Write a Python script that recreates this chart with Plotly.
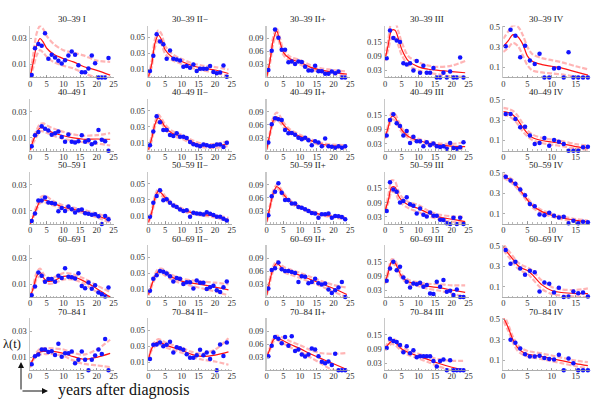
import plotly.graph_objects as go

# ---------------- data ----------------
AGE_GROUPS = ["30–39", "40–49", "50–59", "60–69", "70–84"]
STAGES = ["I", "II−", "II+", "III", "IV"]

YEARS = [0.5, 1.5, 2.5, 3.5, 4.5, 5.5, 6.5, 7.5, 8.5, 9.5, 10.5, 11.5,
         12.5, 13.5, 14.5, 15.5, 16.5, 17.5, 18.5, 19.5, 20.5, 21.5, 22.5, 23.5]
YEARS_IV = [0.5, 1.5, 2.5, 3.5, 4.5, 5.5, 6.5, 7.5, 8.5, 9.5, 10.5, 11.5,
            12.5, 13.5, 14.5, 15.5, 16.5, 17.5]
NODE_X = [0, 1, 2, 3, 4, 5, 7, 10, 13, 16, 20, 24]
NODE_X_IV = [0, 1, 2, 3, 4, 5, 6, 8, 10, 12, 15, 17.5]

Y_RANGE = [0.04, 0.065, 0.12, 0.22, 0.51]
Y_TICKS = [[0.01, 0.03], [0.01, 0.03, 0.05], [0.03, 0.06, 0.09],
           [0.03, 0.09, 0.15], [0.1, 0.3, 0.5]]
Y_TICK_TEXT = [["0.01", "0.03"], ["0.01", "0.03", "0.05"], ["0.03", "0.06", "0.09"],
               ["0.03", "0.09", "0.15"], ["0.1", "0.3", "0.5"]]
X_TICKS = [0, 5, 10, 15, 20, 25]
X_TICKS_IV = [0, 5, 10, 15]

# ---- 30–39 ----
PTS_30_I = [0.002, 0.0225, 0.0258, 0.0245, 0.034, 0.0145, 0.0175, 0.0153, 0.0128, 0.0108, 0.0133, 0.017,
            0.02, 0.0175, 0.0095, 0.004, 0.004, 0.007, 0.017, 0.011, 0, 0, 0, 0.015]
MID_30_I = [0.0, 0.012, 0.0245, 0.030, 0.027, 0.0225, 0.018, 0.0145, 0.012, 0.0085, 0.0055, 0.0018]
HI_30_I = [0.0, 0.018, 0.034, 0.0395, 0.037, 0.032, 0.026, 0.021, 0.019, 0.017, 0.013, 0.012]
LO_30_I = [0.0, 0.008, 0.017, 0.021, 0.019, 0.016, 0.012, 0.009, 0.007, 0.0035, 0.0, 0.0]

PTS_30_IIm = [0.0082, 0.0273, 0.054, 0.0449, 0.0416, 0.0233, 0.0339, 0.0233, 0.0224, 0.0212, 0.0135, 0.0143,
              0.0122, 0.0163, 0.0082, 0.011, 0.011, 0.011, 0.0143, 0.0069, 0.0053, 0.0061, 0.0151, 0.001]
MID_30_IIm = [0.001, 0.016, 0.043, 0.053, 0.047, 0.035, 0.026, 0.02, 0.015, 0.012, 0.0094, 0.005]
HI_30_IIm = [0.002, 0.02, 0.048, 0.059, 0.054, 0.04, 0.03, 0.023, 0.018, 0.015, 0.013, 0.01]
LO_30_IIm = [0.0, 0.013, 0.038, 0.047, 0.041, 0.03, 0.022, 0.017, 0.012, 0.009, 0.006, 0.002]

PTS_30_IIp = [0.0175, 0.0615, 0.111, 0.092, 0.064, 0.064, 0.035, 0.037, 0.031, 0.037, 0.036, 0.025,
              0.016, 0.016, 0.0273, 0.0144, 0.0144, 0.0084, 0.0084, 0.0137, 0.0099, 0.0137, 0, 0]
MID_30_IIp = [0.002, 0.039, 0.088, 0.107, 0.081, 0.058, 0.043, 0.035, 0.024, 0.0175, 0.012, 0.008]
HI_30_IIp = [0.004, 0.045, 0.095, 0.113, 0.09, 0.065, 0.048, 0.04, 0.029, 0.022, 0.017, 0.014]
LO_30_IIp = [0.0, 0.033, 0.08, 0.098, 0.074, 0.052, 0.038, 0.03, 0.019, 0.013, 0.008, 0.004]

PTS_30_III = [0.081, 0.199, 0.167, 0.157, 0.15, 0.06, 0.055, 0.06, 0.03, 0.07, 0.02, 0.05,
              0.02, 0.02, 0.04, 0, 0, 0.02, 0, 0.025, 0, 0, 0.085, 0]
MID_30_III = [0.075, 0.14, 0.2, 0.2, 0.165, 0.12, 0.07, 0.045, 0.035, 0.03, 0.025, 0.02]
HI_30_III = [0.08, 0.16, 0.235, 0.235, 0.195, 0.15, 0.09, 0.065, 0.05, 0.045, 0.05, 0.07]
LO_30_III = [0.07, 0.12, 0.17, 0.17, 0.135, 0.095, 0.052, 0.03, 0.02, 0.013, 0.005, 0.003]

PTS_30_IV = [0.306, 0.468, 0.41, 0.198, 0.312, 0.166, 0.133, 0.234, 0, 0, 0.088, 0.094,
             0, 0.247, 0, 0, 0, 0]
MID_30_IV = [0.306, 0.36, 0.42, 0.40, 0.33, 0.21, 0.16, 0.127, 0.11, 0.094, 0.055, 0.023]
HI_30_IV = [0.38, 0.45, 0.51, 0.5, 0.42, 0.3, 0.23, 0.19, 0.17, 0.15, 0.11, 0.08]
LO_30_IV = [0.25, 0.29, 0.34, 0.31, 0.22, 0.12, 0.07, 0.05, 0.04, 0.03, 0.01, 0.0]

# ---- 40–49 ----
PTS_40_I = [0.0035, 0.0118, 0.0143, 0.0188, 0.0168, 0.0155, 0.0123, 0.0135, 0.0148, 0.0105, 0.0068, 0.0125,
            0.0068, 0.0063, 0.0073, 0.0118, 0.0068, 0.008, 0.005, 0.0063, 0.016, 0.0085, 0.0073, 0]
MID_40_I = [0.0005, 0.008, 0.0135, 0.0175, 0.0173, 0.016, 0.0138, 0.0115, 0.0098, 0.0088, 0.009, 0.0088]
HI_40_I = [0.001, 0.01, 0.016, 0.0205, 0.021, 0.0195, 0.017, 0.0145, 0.0125, 0.0115, 0.012, 0.0135]
LO_40_I = [0.0, 0.006, 0.011, 0.015, 0.0148, 0.0138, 0.0115, 0.0092, 0.0075, 0.0065, 0.0055, 0.004]

PTS_40_IIm = [0.0068, 0.024, 0.043, 0.0355, 0.026, 0.026, 0.0196, 0.0183, 0.0217, 0.0175, 0.0175, 0.016,
              0.011, 0.008, 0.0068, 0.0055, 0.0077, 0.0068, 0.0055, 0.006, 0.0077, 0.0077, 0.0047, 0.0098]
MID_40_IIm = [0.001, 0.015, 0.033, 0.041, 0.037, 0.03, 0.022, 0.0175, 0.011, 0.0065, 0.006, 0.009]
HI_40_IIm = [0.002, 0.018, 0.036, 0.045, 0.04, 0.033, 0.025, 0.02, 0.0135, 0.009, 0.0085, 0.012]
LO_40_IIm = [0.0, 0.012, 0.03, 0.037, 0.034, 0.027, 0.019, 0.015, 0.0085, 0.0045, 0.0035, 0.006]

PTS_40_IIp = [0.0187, 0.061, 0.075, 0.0725, 0.071, 0.0475, 0.04, 0.041, 0.037, 0.030, 0.0265, 0.0296,
              0.024, 0.0125, 0.022, 0.0187, 0.0101, 0.028, 0.0101, 0.0093, 0.007, 0.0101, 0.007, 0.0101]
MID_40_IIp = [0.003, 0.04, 0.07, 0.078, 0.072, 0.06, 0.045, 0.033, 0.024, 0.016, 0.011, 0.009]
HI_40_IIp = [0.004, 0.044, 0.078, 0.088, 0.08, 0.066, 0.049, 0.037, 0.027, 0.019, 0.014, 0.013]
LO_40_IIp = [0.002, 0.036, 0.064, 0.071, 0.065, 0.054, 0.041, 0.03, 0.021, 0.013, 0.008, 0.005]

PTS_40_III = [0.064, 0.13, 0.154, 0.116, 0.104, 0.064, 0.083, 0.033, 0.059, 0.04, 0.04, 0.0186,
              0.036, 0.023, 0.03, 0.0186, 0.0157, 0.0186, 0.0086, 0.033, 0.0114, 0.0086, 0.0143, 0.036]
MID_40_III = [0.055, 0.1, 0.145, 0.14, 0.115, 0.088, 0.06, 0.043, 0.032, 0.025, 0.019, 0.017]
HI_40_III = [0.06, 0.11, 0.16, 0.155, 0.127, 0.097, 0.067, 0.05, 0.038, 0.031, 0.029, 0.035]
LO_40_III = [0.05, 0.092, 0.133, 0.128, 0.103, 0.079, 0.053, 0.036, 0.026, 0.019, 0.012, 0.008]

PTS_40_IV = [0.361, 0.361, 0.311, 0.23, 0.236, 0.148, 0.066, 0.075, 0.125, 0.049, 0.105, 0.089,
             0.066, 0, 0, 0, 0.033, 0.039]
MID_40_IV = [0.384, 0.375, 0.35, 0.3, 0.23, 0.17, 0.13, 0.1, 0.085, 0.07, 0.04, 0.025]
HI_40_IV = [0.42, 0.41, 0.39, 0.34, 0.27, 0.2, 0.16, 0.125, 0.11, 0.095, 0.065, 0.05]
LO_40_IV = [0.35, 0.34, 0.31, 0.26, 0.19, 0.14, 0.105, 0.075, 0.06, 0.045, 0.02, 0.005]

# ---- 50–59 ----
PTS_50_I = [0.0022, 0.008, 0.018, 0.018, 0.0203, 0.0165, 0.016, 0.0155, 0.0097, 0.0122, 0.01, 0.0134,
            0.0112, 0.0087, 0.0105, 0.011, 0.0082, 0.0079, 0.0071, 0.0074, 0.0058, 0, 0.006, 0.0035]
MID_50_I = [0.0, 0.006, 0.012, 0.0175, 0.0185, 0.018, 0.0158, 0.0128, 0.0112, 0.0095, 0.0065, 0.0025]
HI_50_I = [0.0, 0.007, 0.014, 0.02, 0.0215, 0.021, 0.0175, 0.0142, 0.0125, 0.0108, 0.008, 0.0045]
LO_50_I = [0.0, 0.005, 0.011, 0.016, 0.0168, 0.0162, 0.0142, 0.0114, 0.01, 0.0083, 0.005, 0.001]

PTS_50_IIm = [0.0088, 0.0265, 0.035, 0.042, 0.0297, 0.0307, 0.0265, 0.023, 0.021, 0.018, 0.016, 0.017,
              0.0088, 0.0139, 0.013, 0.0126, 0.0118, 0.0147, 0.0126, 0.011, 0.0088, 0.0088, 0.0063, 0.0042]
MID_50_IIm = [0.002, 0.014, 0.032, 0.041, 0.038, 0.033, 0.025, 0.018, 0.014, 0.012, 0.0095, 0.005]
HI_50_IIm = [0.003, 0.016, 0.035, 0.044, 0.041, 0.035, 0.027, 0.0195, 0.0155, 0.0135, 0.011, 0.0075]
LO_50_IIm = [0.001, 0.012, 0.029, 0.038, 0.035, 0.031, 0.023, 0.0165, 0.0125, 0.0105, 0.008, 0.003]

PTS_50_IIp = [0.0199, 0.064, 0.074, 0.094, 0.072, 0.055, 0.055, 0.047, 0.047, 0.039, 0.037, 0.034,
              0.030, 0.0253, 0.0238, 0.0144, 0.0222, 0.0222, 0.0238, 0.0144, 0.0183, 0.0175, 0.016, 0.0105]
MID_50_IIp = [0.005, 0.04, 0.072, 0.086, 0.08, 0.068, 0.052, 0.038, 0.029, 0.022, 0.017, 0.012]
HI_50_IIp = [0.006, 0.044, 0.077, 0.09, 0.084, 0.072, 0.055, 0.041, 0.031, 0.024, 0.019, 0.015]
LO_50_IIp = [0.004, 0.036, 0.067, 0.081, 0.076, 0.064, 0.049, 0.035, 0.027, 0.02, 0.015, 0.009]

PTS_50_III = [0.055, 0.176, 0.146, 0.136, 0.091, 0.097, 0.113, 0.083, 0.077, 0.044, 0.065, 0.039,
              0.031, 0.048, 0.035, 0.035, 0.018, 0.016, 0.003, 0, 0.026, 0, 0.026, 0]
MID_50_III = [0.055, 0.1, 0.155, 0.155, 0.12, 0.1, 0.08, 0.065, 0.045, 0.03, 0.02, 0.01]
HI_50_III = [0.06, 0.12, 0.185, 0.18, 0.14, 0.115, 0.093, 0.08, 0.055, 0.04, 0.032, 0.03]
LO_50_III = [0.05, 0.09, 0.135, 0.133, 0.103, 0.085, 0.067, 0.05, 0.033, 0.02, 0.01, 0.003]

PTS_50_IV = [0.463, 0.425, 0.394, 0.337, 0.28, 0.195, 0.173, 0.091, 0.085, 0.11, 0.079, 0.063,
             0.069, 0.006, 0.031, 0.006, 0.022, 0.016]
MID_50_IV = [0.47, 0.445, 0.41, 0.36, 0.3, 0.235, 0.18, 0.12, 0.085, 0.06, 0.035, 0.02]
HI_50_IV = [0.49, 0.465, 0.43, 0.38, 0.32, 0.255, 0.2, 0.135, 0.1, 0.075, 0.048, 0.033]
LO_50_IV = [0.45, 0.425, 0.39, 0.34, 0.28, 0.215, 0.16, 0.105, 0.07, 0.047, 0.022, 0.008]

# ---- 60–69 ----
PTS_60_I = [0.0014, 0.0082, 0.019, 0.0165, 0.0118, 0.0139, 0.0139, 0.0118, 0.0165, 0.0146, 0.0221, 0.0157,
            0.0152, 0.0143, 0.0184, 0.0086, 0.0068, 0.0112, 0.0065, 0.0091, 0.0035, 0.0022, 0.0004, 0.0074]
MID_60_I = [0.0, 0.007, 0.016, 0.019, 0.015, 0.0125, 0.0125, 0.016, 0.0155, 0.0125, 0.0065, 0.0]
HI_60_I = [0.0, 0.009, 0.019, 0.022, 0.018, 0.015, 0.015, 0.0185, 0.0175, 0.0145, 0.009, 0.004]
LO_60_I = [0.0, 0.006, 0.014, 0.016, 0.0125, 0.0105, 0.0105, 0.0135, 0.0135, 0.0105, 0.004, 0.0]

PTS_60_IIm = [0.0078, 0.023, 0.0274, 0.0326, 0.0317, 0.0296, 0.026, 0.0196, 0.024, 0.023, 0.0165, 0.0187,
              0.0187, 0.0109, 0.0209, 0.0178, 0.0178, 0.01, 0.0122, 0.0143, 0.0087, 0.0065, 0.0122, 0.0196]
MID_60_IIm = [0.003, 0.015, 0.026, 0.032, 0.0325, 0.03, 0.025, 0.02, 0.0175, 0.0155, 0.0125, 0.009]
HI_60_IIm = [0.004, 0.017, 0.029, 0.035, 0.0355, 0.033, 0.028, 0.023, 0.021, 0.0195, 0.018, 0.016]
LO_60_IIm = [0.002, 0.013, 0.023, 0.029, 0.0295, 0.027, 0.022, 0.017, 0.014, 0.011, 0.007, 0.002]

PTS_60_IIp = [0.0199, 0.0627, 0.0666, 0.08, 0.064, 0.06, 0.06, 0.058, 0.0556, 0.0346, 0.0479, 0.0471,
              0.0322, 0.0346, 0.0425, 0.0322, 0.0292, 0.0315, 0.0175, 0.0097, 0.016, 0.0222, 0.0346, 0]
MID_60_IIp = [0.005, 0.04, 0.067, 0.078, 0.072, 0.064, 0.058, 0.05, 0.041, 0.032, 0.02, 0.006]
HI_60_IIp = [0.006, 0.045, 0.072, 0.083, 0.078, 0.07, 0.064, 0.056, 0.047, 0.038, 0.028, 0.022]
LO_60_IIp = [0.004, 0.035, 0.062, 0.073, 0.066, 0.058, 0.052, 0.044, 0.035, 0.026, 0.012, 0.0]

PTS_60_III = [0.069, 0.121, 0.15, 0.114, 0.128, 0.083, 0.065, 0.041, 0.058, 0.054, 0.061, 0.044,
              0.051, 0.0155, 0.0127, 0.065, 0.044, 0.072, 0.0226, 0.0268, 0.0085, 0.0325, 0, 0]
MID_60_III = [0.06, 0.105, 0.15, 0.145, 0.115, 0.088, 0.065, 0.055, 0.045, 0.04, 0.03, 0.02]
HI_60_III = [0.065, 0.115, 0.16, 0.155, 0.125, 0.097, 0.073, 0.063, 0.056, 0.055, 0.05, 0.05]
LO_60_III = [0.055, 0.095, 0.14, 0.135, 0.105, 0.079, 0.056, 0.046, 0.035, 0.028, 0.015, 0.0]

PTS_60_IV = [0.463, 0.327, 0.346, 0.28, 0.22, 0.258, 0.243, 0.054, 0.142, 0.132, 0.044, 0.091,
             0, 0.006, 0.054, 0.038, 0.044, 0.006]
MID_60_IV = [0.49, 0.43, 0.37, 0.31, 0.28, 0.26, 0.22, 0.12, 0.065, 0.045, 0.035, 0.035]
HI_60_IV = [0.52, 0.46, 0.4, 0.34, 0.31, 0.29, 0.26, 0.16, 0.1, 0.075, 0.07, 0.085]
LO_60_IV = [0.46, 0.4, 0.34, 0.28, 0.25, 0.23, 0.18, 0.08, 0.03, 0.015, 0.005, 0.0]

# ---- 70–84 ----
PTS_70_I = [0.0047, 0.0108, 0.0121, 0.016, 0.016, 0.014, 0.0147, 0.0118, 0.0205, 0.0105, 0.0132, 0.0132,
            0.0145, 0.0055, 0.0082, 0.0145, 0.0082, 0, 0.0082, 0.0113, 0.016, 0.0126, 0.024, 0]
MID_70_I = [0.003, 0.009, 0.0125, 0.014, 0.0145, 0.0145, 0.0145, 0.013, 0.0105, 0.0085, 0.01, 0.013]
HI_70_I = [0.004, 0.01, 0.014, 0.0165, 0.0168, 0.017, 0.0168, 0.016, 0.0135, 0.012, 0.016, 0.0235]
LO_70_I = [0.002, 0.008, 0.011, 0.012, 0.0125, 0.0125, 0.0125, 0.011, 0.0075, 0.005, 0.0038, 0.0025]

PTS_70_IIm = [0.0142, 0.032, 0.0324, 0.0347, 0.0302, 0.032, 0.0356, 0.0222, 0.0289, 0.0276, 0.0258, 0.02,
              0.0156, 0.0156, 0.0187, 0.0258, 0.0187, 0.0222, 0.0142, 0.0222, 0.0, 0.0324, 0.0178, 0.0347]
MID_70_IIm = [0.013, 0.027, 0.033, 0.0355, 0.034, 0.032, 0.029, 0.025, 0.02, 0.0175, 0.019, 0.023]
HI_70_IIm = [0.014, 0.029, 0.036, 0.039, 0.0375, 0.035, 0.032, 0.028, 0.023, 0.021, 0.026, 0.04]
LO_70_IIm = [0.012, 0.025, 0.030, 0.032, 0.031, 0.029, 0.026, 0.022, 0.017, 0.0135, 0.011, 0.007]

PTS_70_IIp = [0.0324, 0.0568, 0.077, 0.073, 0.0624, 0.077, 0.0568, 0.0786, 0.0446, 0.0478, 0.0365, 0.0316,
              0.0365, 0.0503, 0.0478, 0.0324, 0.0195, 0.0162, 0.0203, 0.0122, 0.0381, 0, 0, 0]
MID_70_IIp = [0.03, 0.05, 0.07, 0.075, 0.072, 0.068, 0.06, 0.05, 0.038, 0.028, 0.015, 0.002]
HI_70_IIp = [0.032, 0.053, 0.074, 0.08, 0.078, 0.075, 0.067, 0.058, 0.047, 0.04, 0.038, 0.04]
LO_70_IIp = [0.028, 0.047, 0.066, 0.07, 0.066, 0.062, 0.053, 0.043, 0.03, 0.017, 0.0, 0.0]

PTS_70_III = [0.094, 0.133, 0.124, 0.12, 0.107, 0.076, 0.102, 0.072, 0.085, 0.055, 0.059, 0.059,
              0.059, 0.059, 0.039, 0.016, 0.039, 0.046, 0, 0.042, 0, 0, 0, 0]
MID_70_III = [0.09, 0.11, 0.122, 0.118, 0.105, 0.09, 0.075, 0.06, 0.045, 0.03, 0.013, 0.0]
HI_70_III = [0.095, 0.12, 0.135, 0.13, 0.115, 0.1, 0.085, 0.07, 0.058, 0.047, 0.04, 0.04]
LO_70_III = [0.085, 0.1, 0.112, 0.107, 0.094, 0.08, 0.065, 0.05, 0.034, 0.017, 0.0, 0.0]

PTS_70_IV = [None, 0.3, 0.27, 0.214, 0.158, 0.136, 0.136, 0.143, 0.121, 0.112, 0.105, 0.152,
             0, 0.115, 0.068, 0, 0, 0]
MID_70_IV = [0.52, 0.42, 0.3, 0.22, 0.18, 0.16, 0.15, 0.135, 0.115, 0.095, 0.065, 0.045]
HI_70_IV = [0.56, 0.45, 0.33, 0.25, 0.21, 0.19, 0.18, 0.165, 0.145, 0.125, 0.095, 0.08]
LO_70_IV = [0.48, 0.39, 0.27, 0.19, 0.155, 0.135, 0.125, 0.11, 0.09, 0.07, 0.04, 0.02]

PANELS = [
    [(PTS_30_I, MID_30_I, LO_30_I, HI_30_I), (PTS_30_IIm, MID_30_IIm, LO_30_IIm, HI_30_IIm),
     (PTS_30_IIp, MID_30_IIp, LO_30_IIp, HI_30_IIp), (PTS_30_III, MID_30_III, LO_30_III, HI_30_III),
     (PTS_30_IV, MID_30_IV, LO_30_IV, HI_30_IV)],
    [(PTS_40_I, MID_40_I, LO_40_I, HI_40_I), (PTS_40_IIm, MID_40_IIm, LO_40_IIm, HI_40_IIm),
     (PTS_40_IIp, MID_40_IIp, LO_40_IIp, HI_40_IIp), (PTS_40_III, MID_40_III, LO_40_III, HI_40_III),
     (PTS_40_IV, MID_40_IV, LO_40_IV, HI_40_IV)],
    [(PTS_50_I, MID_50_I, LO_50_I, HI_50_I), (PTS_50_IIm, MID_50_IIm, LO_50_IIm, HI_50_IIm),
     (PTS_50_IIp, MID_50_IIp, LO_50_IIp, HI_50_IIp), (PTS_50_III, MID_50_III, LO_50_III, HI_50_III),
     (PTS_50_IV, MID_50_IV, LO_50_IV, HI_50_IV)],
    [(PTS_60_I, MID_60_I, LO_60_I, HI_60_I), (PTS_60_IIm, MID_60_IIm, LO_60_IIm, HI_60_IIm),
     (PTS_60_IIp, MID_60_IIp, LO_60_IIp, HI_60_IIp), (PTS_60_III, MID_60_III, LO_60_III, HI_60_III),
     (PTS_60_IV, MID_60_IV, LO_60_IV, HI_60_IV)],
    [(PTS_70_I, MID_70_I, LO_70_I, HI_70_I), (PTS_70_IIm, MID_70_IIm, LO_70_IIm, HI_70_IIm),
     (PTS_70_IIp, MID_70_IIp, LO_70_IIp, HI_70_IIp), (PTS_70_III, MID_70_III, LO_70_III, HI_70_III),
     (PTS_70_IV, MID_70_IV, LO_70_IV, HI_70_IV)],
]

# ---------------- layout geometry (pixels) ----------------
W, H = 600, 414
COL_LEFT = [30, 148.3, 266.7, 385, 503.3]
COL_WIDTH = [83.5, 83.5, 83.5, 83.5, 87]
ROW_BOTTOM = [77.5, 150.7, 223.9, 297.1, 370.3]
PANEL_H = 52

FONT = "Liberation Serif"
RED = "rgb(255,20,20)"
PINK = "rgba(255,120,120,0.55)"
BLUE = "rgb(20,20,255)"

fig = go.Figure()
layout = dict(width=W, height=H, margin=dict(l=0, r=0, t=0, b=0, autoexpand=False),
              paper_bgcolor="white", plot_bgcolor="white", showlegend=False,
              annotations=[], shapes=[])

for r in range(5):
    for c in range(5):
        k = r * 5 + c + 1
        xs_name = "x" if k == 1 else f"x{k}"
        ys_name = "y" if k == 1 else f"y{k}"
        xa = "xaxis" if k == 1 else f"xaxis{k}"
        ya = "yaxis" if k == 1 else f"yaxis{k}"
        pts, mid, lo, hi = PANELS[r][c]
        iv = (c == 4)
        px_pts = YEARS_IV if iv else YEARS
        nx = NODE_X_IV if iv else NODE_X

        for band in (hi, lo):
            fig.add_trace(go.Scatter(x=nx, y=band, mode="lines", xaxis=xs_name, yaxis=ys_name,
                                     line=dict(color=PINK, width=2.2, dash="5px,2px", shape="spline",
                                               smoothing=0.9),
                                     hoverinfo="skip"))
        fig.add_trace(go.Scatter(x=nx, y=mid, mode="lines", xaxis=xs_name, yaxis=ys_name,
                                 line=dict(color=RED, width=1.2, shape="spline", smoothing=0.9),
                                 hoverinfo="skip"))
        fig.add_trace(go.Scatter(x=px_pts, y=pts, mode="markers", xaxis=xs_name, yaxis=ys_name,
                                 marker=dict(color=BLUE, size=4.5, line=dict(width=0)),
                                 cliponaxis=False, hoverinfo="skip"))

        x0 = COL_LEFT[c]
        x1 = x0 + COL_WIDTH[c]
        yb = ROW_BOTTOM[r]
        yt = yb - PANEL_H
        layout[xa] = dict(domain=[x0 / W, x1 / W], anchor=ys_name, automargin=False,
                          range=[0, 18] if iv else [0, 25],
                          tickvals=X_TICKS_IV if iv else X_TICKS,
                          showgrid=False, zeroline=False, showline=True,
                          linecolor="#999", linewidth=0.8,
                          ticks="inside", ticklen=2.5, tickcolor="#888", tickwidth=0.8,
                          minor=dict(ticks="inside", ticklen=1.5, dtick=1, tickcolor="#aaa"),
                          ticklabelstandoff=-2,
                          tickfont=dict(family=FONT, size=8.5, color="#333"), fixedrange=True)
        layout[ya] = dict(domain=[1 - yb / H, 1 - yt / H], anchor=xs_name, automargin=False,
                          range=[0, Y_RANGE[c]],
                          tickvals=Y_TICKS[c], ticktext=Y_TICK_TEXT[c],
                          showgrid=False, zeroline=False, showline=True,
                          linecolor="#c8c8c8", linewidth=1.5,
                          ticks="inside", ticklen=2, tickcolor="#999", tickwidth=0.8,
                          tickfont=dict(family=FONT, size=8.5, color="#333"), fixedrange=True)
        layout["annotations"].append(dict(
            text=f"{AGE_GROUPS[r]} {STAGES[c]}", xref="paper", yref="paper",
            x=(x0 + x1) / 2 / W, y=1 - (yt - 6.5) / H, xanchor="center", yanchor="middle",
            showarrow=False, font=dict(family=FONT, size=9, color="#222")))

# axis-legend at bottom left
layout["annotations"].append(dict(text="λ(t)", xref="paper", yref="paper", x=0.5 / W, y=1 - 344 / H,
                                  xanchor="left", yanchor="middle", showarrow=False,
                                  font=dict(family=FONT, size=12.5, color="#111")))
layout["annotations"].append(dict(text="years after diagnosis", xref="paper", yref="paper",
                                  x=56 / W, y=1 - 390 / H, xanchor="left", yanchor="middle",
                                  showarrow=False, font=dict(family=FONT, size=16, color="#111")))
layout["annotations"].append(dict(text="", xref="paper", yref="paper", x=21 / W, y=1 - 362 / H,
                                  ax=0, ay=29, showarrow=True, arrowhead=2, arrowsize=1.2,
                                  arrowwidth=1, arrowcolor="#111"))
layout["annotations"].append(dict(text="", xref="paper", yref="paper", x=48 / W, y=1 - 391 / H,
                                  ax=-27, ay=0, showarrow=True, arrowhead=2, arrowsize=1.2,
                                  arrowwidth=1, arrowcolor="#111"))

fig.update_layout(**layout)
fig.write_html("out.html", config={"displayModeBar": False, "staticPlot": True},
               post_script="document.body.style.margin='0';document.body.style.padding='0';"
                           "document.body.style.overflow='hidden';")
